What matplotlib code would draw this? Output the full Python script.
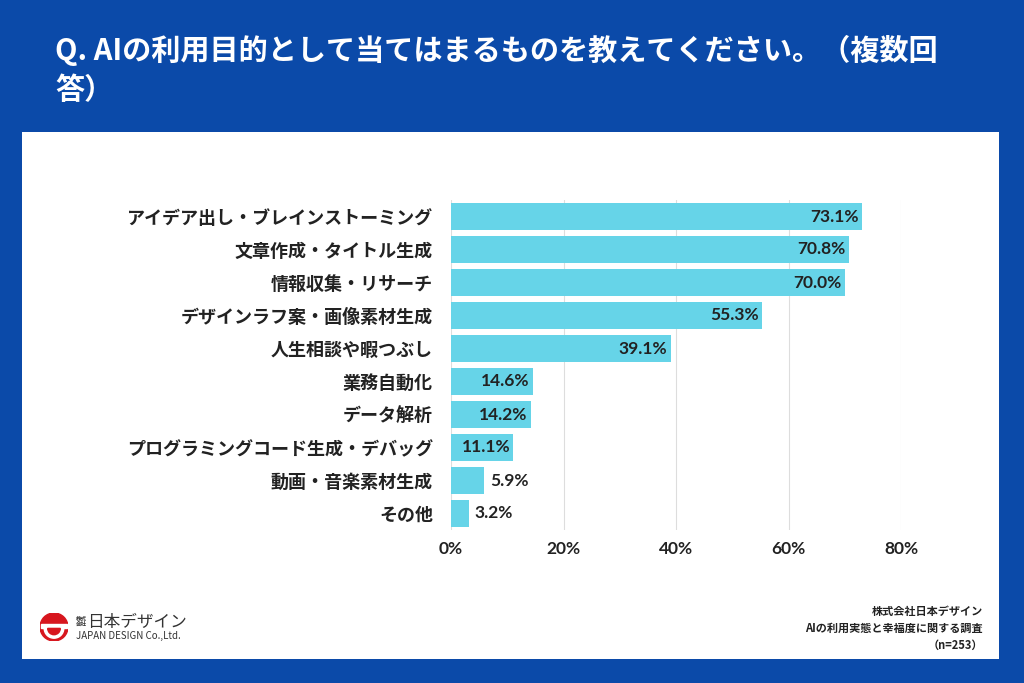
import matplotlib.pyplot as plt
from matplotlib.patches import Rectangle, Circle, Wedge

plt.rcParams['font.family'] = ['Noto Sans CJK JP', 'DejaVu Sans']
num_font = ['Lato', 'Noto Sans CJK JP']

categories = ['アイデア出し・ブレインストーミング', '文章作成・タイトル生成', '情報収集・リサーチ',
              'デザインラフ案・画像素材生成', '人生相談や暇つぶし', '業務自動化', 'データ解析',
              'プログラミングコード生成・デバッグ', '動画・音楽素材生成', 'その他']
values = [73.1, 70.8, 70.0, 55.3, 39.1, 14.6, 14.2, 11.1, 5.9, 3.2]
xticks = [0, 20, 40, 60, 80]

title1 = 'Q. AIの利用目的として当てはまるものを教えてください。（複数回'
title2 = '答）'
source = '株式会社日本デザイン\nAIの利用実態と幸福度に関する調査\n（n=253）'

blue = '#0b4aa9'
bar_color = '#66d4e8'

W, H = 1024, 683
fig = plt.figure(figsize=(W / 100, H / 100), dpi=100)
fig.patch.set_facecolor(blue)

# white panel
fig.patches.append(Rectangle((22 / W, 1 - 659 / H), (999 - 22) / W, (659 - 132) / H,
                             transform=fig.transFigure, facecolor='white', edgecolor='none',
                             zorder=-5))

fig.text(55 / W, 1 - 50 / H, title1, color='white', fontsize=21, fontweight='bold',
         va='center', ha='left')
fig.text(55 / W, 1 - 90 / H, title2, color='white', fontsize=21, fontweight='bold',
         va='center', ha='left')

ax = fig.add_axes([451 / W, 1 - 530 / H, 450 / W, 330 / H])
ax.set_facecolor('none')
ypos = list(range(len(categories)))
ax.barh(ypos, values, height=0.84, color=bar_color, zorder=2)
ax.set_ylim(len(categories) - 0.5, -0.5)
ax.set_xlim(0, 80)
ax.set_yticks(ypos)
ax.set_yticklabels(categories, fontsize=13, fontweight='bold', color='#222222')
ax.set_xticks(xticks)
ax.set_xticklabels([f'{t}%' for t in xticks], fontsize=12.5, fontweight='bold',
                   color='#222222', family=num_font)
ax.tick_params(axis='both', length=0)
ax.tick_params(axis='y', pad=13)
ax.tick_params(axis='x', pad=8)
ax.grid(axis='x', color='#dddddd', linewidth=0.8, zorder=0)
for s in ax.spines.values():
    s.set_visible(False)

for y, v in zip(ypos, values):
    if v >= 10:
        ax.text(v - 0.6, y, f'{v:.1f}%', ha='right', va='center', fontsize=12.5,
                fontweight='bold', color='#222222', zorder=3, family=num_font)
    else:
        ax.text(v + 1.0, y, f'{v:.1f}%', ha='left', va='center', fontsize=12.5,
                fontweight='bold', color='#222222', zorder=3, family=num_font)

# source note
fig.text(983 / W, 1 - 628 / H, source, ha='right', va='center', fontsize=8,
         fontweight='bold', color='#222222', linespacing=1.4)

# logo
lax = fig.add_axes([40 / W, 1 - 641 / H, 28 / W, 28 / H])
lax.set_xlim(-1, 1)
lax.set_ylim(-1, 1)
lax.set_aspect('equal')
lax.axis('off')
lax.add_patch(Circle((0, 0), 1, color='#d7161e'))
lax.add_patch(Rectangle((-0.95, -0.1), 1.9, 0.3, color='white'))
lax.add_patch(Wedge((0, -0.1), 0.7, 180, 360, color='white'))
lax.add_patch(Wedge((0, -0.1), 0.45, 180, 360, color='#d7161e'))
fig.text(76 / W, 1 - 622 / H, '株式\n会社', fontsize=4, fontweight='bold', color='#333333',
         va='center', ha='left', linespacing=0.9)
fig.text(87 / W, 1 - 622 / H, '日本デザイン', fontsize=12, color='#333333', va='center', ha='left')
fig.text(76 / W, 1 - 636 / H, 'JAPAN DESIGN Co.,Ltd.', fontsize=7, color='#333333',
         va='center', ha='left')

fig.savefig('out.png', dpi=100, facecolor=fig.get_facecolor())
